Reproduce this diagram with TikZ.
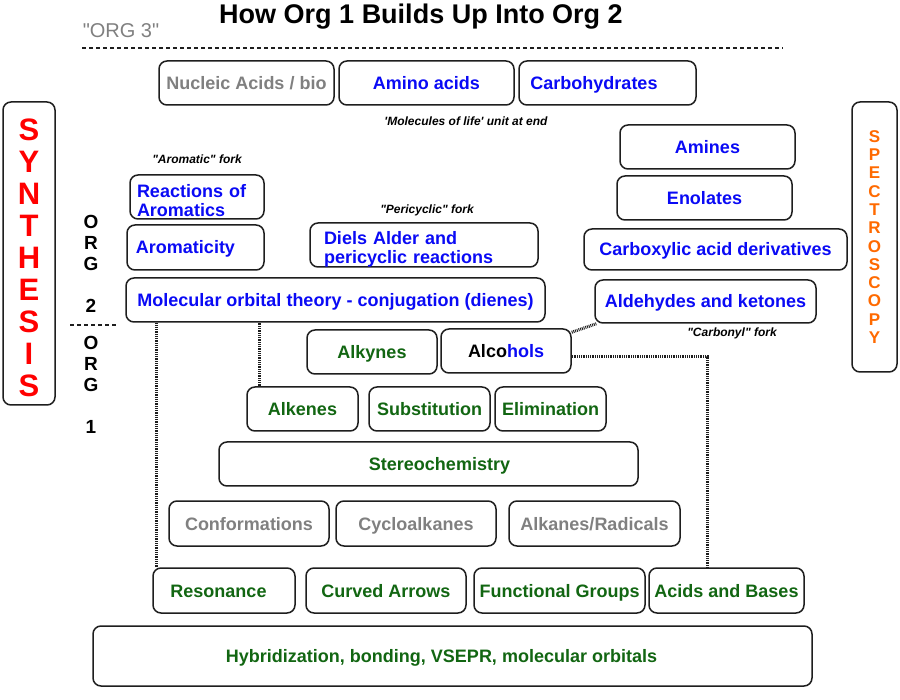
\documentclass[tikz,border=0pt]{standalone}
\usepackage{fontspec}
\setmainfont{Liberation Sans}
\definecolor{tblue}{RGB}{10,10,245}
\definecolor{tgreen}{RGB}{18,102,18}
\definecolor{tgray}{RGB}{128,128,128}
\definecolor{tred}{RGB}{255,0,0}
\definecolor{torange}{RGB}{255,106,0}
\definecolor{tline}{RGB}{30,30,30}
\tikzset{
  box/.style={draw=tline, line width=1.5pt, rounded corners=8pt, inner sep=0pt,
    font=\bfseries\fontsize{18}{19}\selectfont},
  box1/.style={box, text height=14pt, text depth=1pt},
  bl/.style={text=tblue}, gr/.style={text=tgreen}, gy/.style={text=tgray},
  fork/.style={font=\bfseries\itshape\fontsize{12}{14}\selectfont},
  dotline/.style={draw=tline, line width=3pt, dash pattern=on 0.9pt off 0.9pt},
  dashline/.style={draw=tline, line width=1.2pt, dash pattern=on 4pt off 3pt},
  vlabel/.style={font=\bfseries\fontsize{19}{21}\selectfont, align=center, inner sep=0pt},
}
\newcommand\BX[8][box1]{\node[#1,#7,minimum width={#5-#3},minimum height={#6-#4}] (#2) at ({(#3+#5)/2},{(#4+#6)/2}) {#8};}
\newcommand\qq{\textquotedbl}
\begin{document}
\begin{tikzpicture}[x=1pt,y=-1pt]
\useasboundingbox[fill=white] (0,0) rectangle (900,700);

% title
\node[font=\bfseries\fontsize{27}{30}\selectfont, inner sep=0pt] (title) at (421,17) {How Org 1 Builds Up Into Org 2};
\node[font=\fontsize{20}{22}\selectfont, text=tgray, inner sep=0pt] (org3) at (121,31) {\qq ORG 3\qq};
\coordinate (d1) at (82,48);
\coordinate (d2) at (783,48);
\draw[dashline] (d1) -- (d2);

% top row
\BX{nuc}{159}{61}{334}{105}{gy}{Nucleic Acids / bio}
\BX{ami}{339}{61}{514}{105}{bl}{Amino acids}
\BX{carb}{519}{61}{696}{105}{bl}{Carbohydrates\hspace*{27pt}}
\node[fork] (mol) at (466,121) {\textquotesingle Molecules of life\textquotesingle\ unit at end};

% side bars
\BX[box]{synbox}{3}{102}{55}{405}{}{}
\node[font=\bfseries\fontsize{31}{32}\selectfont, text=tred, align=center, inner sep=0pt] (syn) at (29,258)
  {S\\Y\\N\\T\\H\\E\\S\\I\\S};
\BX[box]{spec}{852}{102}{897}{372}{text=torange, align=center, font=\bfseries\fontsize{17}{18.3}\selectfont}
  {S\\P\\E\\C\\T\\R\\O\\S\\C\\O\\P\\Y}

% ORG labels
\node[vlabel] (org2) at (91,264) {O\\R\\G\\\mbox{}\\2};
\node[vlabel] (org1) at (91,385) {O\\R\\G\\\mbox{}\\1};
\coordinate (e1) at (70,325);
\coordinate (e2) at (118,325);
\draw[dashline] (e1) -- (e2);

% Org 2 left
\node[fork] (arofork) at (197,159) {\qq Aromatic\qq\ fork};
\BX[box]{rea}{130}{175}{264}{219}{bl, align=left, inner xsep=7pt, text width=120pt, text depth=13pt, font=\bfseries\fontsize{18}{19}\selectfont}{Reactions of\\Aromatics}
\BX{aro}{127}{225}{264}{270}{bl}{Aromaticity\hspace*{20pt}}
\node[fork] (perifork) at (427,210) {\qq Pericyclic\qq\ fork};
\BX[box]{diels}{310}{223}{538}{267}{bl, align=left, inner xsep=14pt, text width=200pt, text depth=15pt, font=\bfseries\fontsize{18}{19}\selectfont}{Diels Alder and\\pericyclic reactions}
\BX{mo}{126}{278}{545}{322}{bl}{Molecular orbital theory - conjugation (dienes)}

% Org 2 right
\BX{amn}{620}{125}{795}{169}{bl}{Amines}
\BX{eno}{617}{176}{792}{220}{bl}{Enolates}
\BX{carbox}{584}{229}{847}{270}{bl}{Carboxylic acid derivatives}
\BX{ald}{595}{280}{816}{323}{bl}{Aldehydes and ketones}
\node[fork] (carbfork) at (732,333) {\qq Carbonyl\qq\ fork};

% Org 1
\BX{alky}{307}{330}{437}{374}{gr}{Alkynes}
\BX{alc}{441}{329}{571}{373}{}{Alco{\color{tblue}hols}}
\BX{alke}{247}{387}{358}{431}{gr}{Alkenes}
\BX{subs}{369}{387}{490}{431}{gr}{Substitution}
\BX{elim}{495}{387}{606}{431}{gr}{Elimination}
\BX{stereo}{219}{442}{638}{486}{gr}{\hspace*{22pt}Stereochemistry}
\BX{conf}{169}{501}{329}{546}{gy}{Conformations}
\BX{cyclo}{336}{501}{496}{546}{gy}{Cycloalkanes}
\BX{alka}{509}{501}{680}{546}{gy}{Alkanes/Radicals}
\BX{res}{153}{568}{295}{613}{gr}{Resonance\hspace*{11pt}}
\BX{curv}{306}{568}{466}{613}{gr}{Curved Arrows}
\BX{func}{474}{568}{645}{613}{gr}{Functional Groups}
\BX{acid}{649}{568}{804}{613}{gr}{Acids and Bases}
\BX{hyb}{93}{626}{812}{686}{gr}{Hybridization, bonding, VSEPR, molecular orbitals\hspace*{22pt}}

% dotted connectors
\draw[dotline] ([xshift=4pt]res.north west) -- ([xshift=4pt]res.north west |- mo.south);
\draw[dotline] ([xshift=13pt]alke.north west) -- ([xshift=13pt]alke.north west |- mo.south);
\draw[dotline] ([yshift=-4pt]alc.north east) -- ([xshift=2pt]ald.south west);
\draw[dotline] ([yshift=-6pt]alc.east) -| ([xshift=59pt]acid.north west);
\end{tikzpicture}
\end{document}
